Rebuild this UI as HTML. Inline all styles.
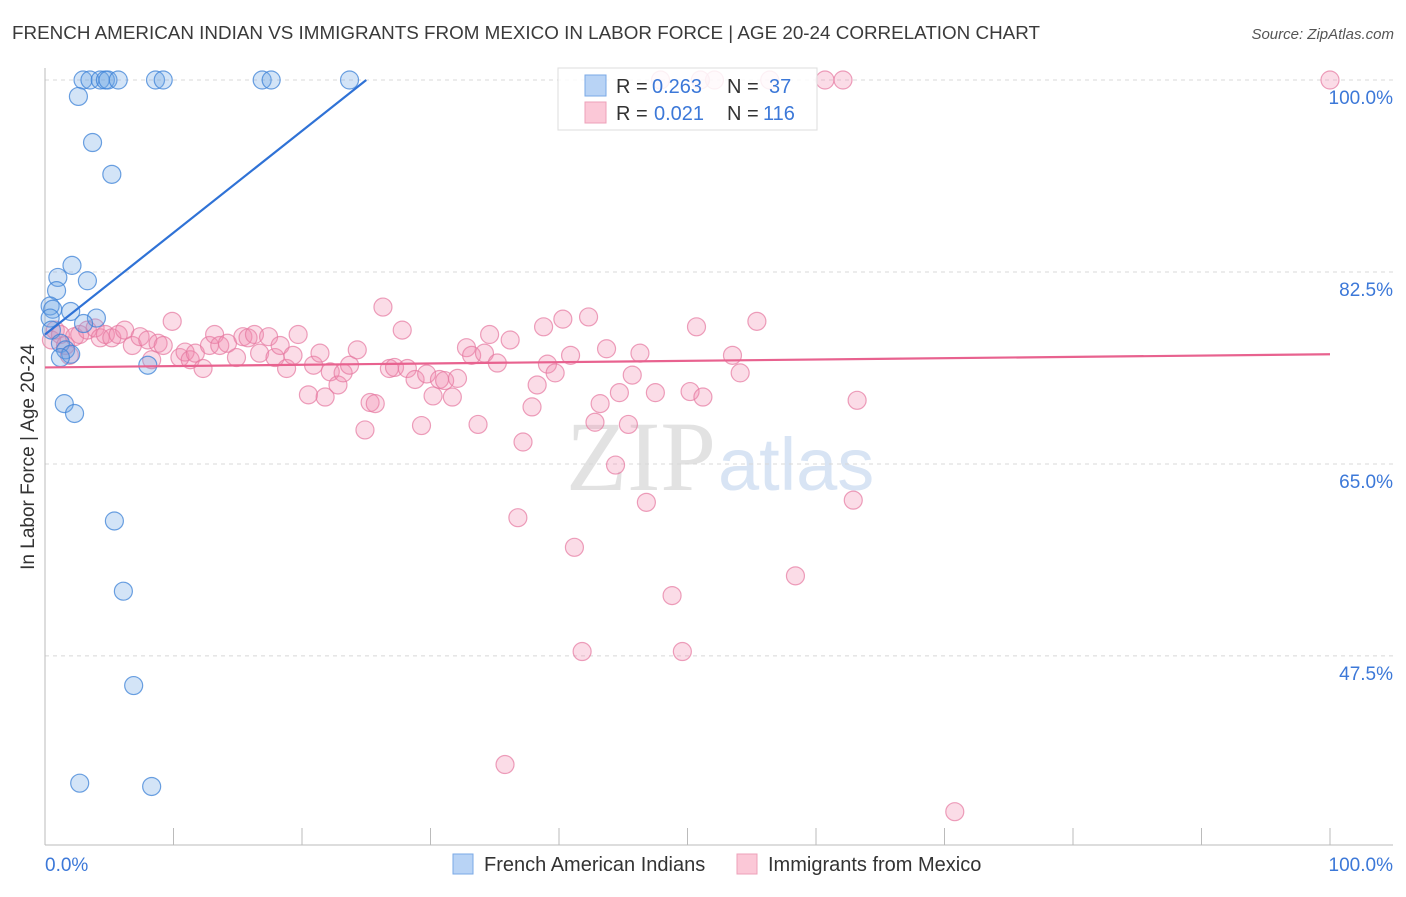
<!DOCTYPE html>
<html><head><meta charset="utf-8"><style>
body{margin:0;background:#fff;font-family:"Liberation Sans",sans-serif;}
</style></head><body>
<svg id="c" width="1406" height="892" xmlns="http://www.w3.org/2000/svg" style="font-family:'Liberation Sans',sans-serif">
<text x="12" y="39" font-size="18" textLength="1028" lengthAdjust="spacingAndGlyphs" fill="#3a3a3a">FRENCH AMERICAN INDIAN VS IMMIGRANTS FROM MEXICO IN LABOR FORCE | AGE 20-24 CORRELATION CHART</text>
<text x="1394" y="39" font-size="15" fill="#555" font-style="italic" text-anchor="end">Source: ZipAtlas.com</text>
<text x="34" y="457" font-size="19" fill="#333" text-anchor="middle" transform="rotate(-90 34 457)">In Labor Force | Age 20-24</text>
<text x="716" y="490" font-size="100" fill="#e2e2e2" text-anchor="end" font-family="Liberation Serif,serif">ZIP</text>
<text x="718" y="490" font-size="74" fill="#d8e4f4">atlas</text>
<g id="grid"></g><g id="pts"></g><g id="lines"></g>
<g>
<rect x="558" y="68" width="259" height="62" fill="rgba(255,255,255,0.85)" stroke="#ddd"/>
<rect x="585" y="75" width="21" height="21" fill="#b8d3f5" stroke="#7aa8e6"/>
<rect x="585" y="102" width="21" height="21" fill="#fbc8d7" stroke="#eea0b8"/>
<text x="616" y="93" font-size="20" fill="#333">R =</text>
<text x="652" y="93" font-size="20" fill="#3c78d8">0.263</text>
<text x="727" y="93" font-size="20" fill="#333">N =</text>
<text x="769" y="93" font-size="20" fill="#3c78d8">37</text>
<text x="616" y="120" font-size="20" fill="#333">R =</text>
<text x="654" y="120" font-size="20" fill="#3c78d8">0.021</text>
<text x="727" y="120" font-size="20" fill="#333">N =</text>
<text x="763" y="120" font-size="20" fill="#3c78d8">116</text>
</g>
<g>
<rect x="453" y="854" width="20" height="20" fill="#b8d3f5" stroke="#7aa8e6"/>
<text x="484" y="871" font-size="20" fill="#333">French American Indians</text>
<rect x="737" y="854" width="20" height="20" fill="#fbc8d7" stroke="#eea0b8"/>
<text x="768" y="871" font-size="20" fill="#333">Immigrants from Mexico</text>
</g>
</svg>
<script>
const yTicks=[100,82.5,65,47.5];
const yTickLabels=["100.0%","82.5%","65.0%","47.5%"];
const xTickLabels=["0.0%","100.0%"];
const blueX=[2.96,3.5,4.3,4.7,4.9,5.7,8.6,9.2,16.9,17.6,23.7,2.6,3.7,5.2,2.1,1.0,3.3,0.9,0.4,0.6,2.0,0.4,4.0,3.0,0.5,1.2,1.6,2.0,1.2,8.0,1.5,2.3,5.4,6.1,6.9,2.7,8.3];
const blueY=[100,100,100,100,100,100,100,100,100,100,100,98.5,94.3,91.4,83.1,82.0,81.7,80.8,79.4,79.1,78.9,78.3,78.3,77.8,77.2,76.0,75.4,75.0,74.7,74.0,70.5,69.6,59.8,53.4,44.8,35.9,35.6];
const pinkX=[0.5,0.8,1.2,1.6,1.9,2.3,2.7,3.3,3.9,4.3,4.7,5.2,5.7,6.2,6.8,7.4,8.0,8.3,8.8,9.2,9.9,10.5,10.9,11.3,11.7,12.3,12.8,13.2,13.6,14.2,14.9,15.4,15.8,16.3,16.7,17.4,17.9,18.3,18.8,19.3,19.7,20.5,20.9,21.4,21.8,22.2,22.8,23.2,23.7,24.3,24.9,25.3,25.7,26.3,26.8,27.2,27.8,28.2,28.8,29.3,29.7,30.2,30.7,31.1,31.7,32.1,32.8,33.2,33.7,34.2,34.6,35.2,35.8,36.2,36.8,37.2,37.9,38.3,38.8,39.1,39.7,40.3,40.9,41.2,41.8,42.3,42.8,43.2,43.7,44.4,44.7,45.4,45.7,46.3,46.8,47.5,47.9,48.8,49.6,50.2,50.7,51.2,52.1,53.5,54.1,55.4,56.4,58.4,60.7,62.1,62.9,63.2,70.8,100,51.0];
const pinkY=[76.3,77.2,76.8,75.8,74.9,76.6,76.8,77.2,77.4,76.5,76.8,76.5,76.8,77.2,75.8,76.6,76.3,74.5,76.0,75.8,78.0,74.7,75.2,74.5,75.1,73.7,75.8,76.8,75.8,76.0,74.7,76.6,76.5,76.8,75.1,76.6,74.7,75.8,73.7,74.9,76.8,71.3,74.0,75.1,71.1,73.4,72.2,73.3,74.0,75.4,68.1,70.6,70.5,79.3,73.7,73.8,77.2,73.7,72.7,68.5,73.2,71.2,72.7,72.6,71.1,72.8,75.6,74.9,68.6,75.1,76.8,74.2,37.6,76.3,60.1,67.0,70.2,72.2,77.5,74.1,73.3,78.2,74.9,57.4,47.9,78.4,68.8,70.5,75.5,64.9,71.5,68.6,73.1,75.1,61.5,71.5,100,53.0,47.9,71.6,77.5,71.1,100,74.9,73.3,78.0,100,54.8,100,100,61.7,70.8,33.3,100,100];
const blueLine=[[0,76.8],[25,100]];
const pinkLine=[[0,73.8],[100,75.0]];
const X0=45,X1=1330,Y100=80,PPV=10.97;
const sx=v=>X0+(X1-X0)*v/100, sy=v=>Y100+(100-v)*PPV;
const NS="http://www.w3.org/2000/svg";
function mk(t,a,p){const e=document.createElementNS(NS,t);for(const k in a)e.setAttribute(k,a[k]);p.appendChild(e);return e;}
const g=document.getElementById('grid');
yTicks.forEach((v,i)=>{
 const l=mk('line',{x1:X0,x2:1393,y1:sy(v),y2:sy(v),stroke:'#d8d8d8','stroke-dasharray':'4,4'},g);
 
 
 const t=mk('text',{x:1393,y:sy(v)+24,'font-size':19,fill:'#3c78d8','text-anchor':'end'},g);t.textContent=yTickLabels[i];
 
 
});
mk('line',{x1:X0,x2:X0,y1:68,y2:845,stroke:'#bbb'},g);
mk('line',{x1:X0,x2:1393,y1:845,y2:845,stroke:'#bbb'},g);
for(let i=0;i<=10;i++){const x=sx(i*10);const tk=mk('line',{x1:x,x2:x,y1:828,y2:845,stroke:'#bbb'},g);
 
 }
[[0,'start',X0],[1,'end',1393]].forEach(([i,a,x])=>{const t=mk('text',{x:x,y:871,'font-size':19,fill:'#3c78d8','text-anchor':a},g);t.textContent=xTickLabels[i];
 
 });
const p=document.getElementById('pts');
pinkX.forEach((x,i)=>{const c=mk('circle',{cx:sx(x),cy:sy(pinkY[i]),r:9,fill:'rgba(242,140,175,0.3)',stroke:'rgba(230,120,160,0.7)','stroke-width':1.2},p);
 
 });
blueX.forEach((x,i)=>{const c=mk('circle',{cx:sx(x),cy:sy(blueY[i]),r:9,fill:'rgba(110,165,230,0.3)',stroke:'rgba(60,130,215,0.75)','stroke-width':1.2},p);
 
 });
const L=document.getElementById('lines');
const bl=mk('line',{x1:sx(blueLine[0][0]),y1:sy(blueLine[0][1]),x2:sx(blueLine[1][0]),y2:sy(blueLine[1][1]),stroke:'#2f72d6','stroke-width':2.2},L);


const pl=mk('line',{x1:sx(pinkLine[0][0]),y1:sy(pinkLine[0][1]),x2:sx(pinkLine[1][0]),y2:sy(pinkLine[1][1]),stroke:'#e8628f','stroke-width':2.2},L);


</script>
</body></html>
